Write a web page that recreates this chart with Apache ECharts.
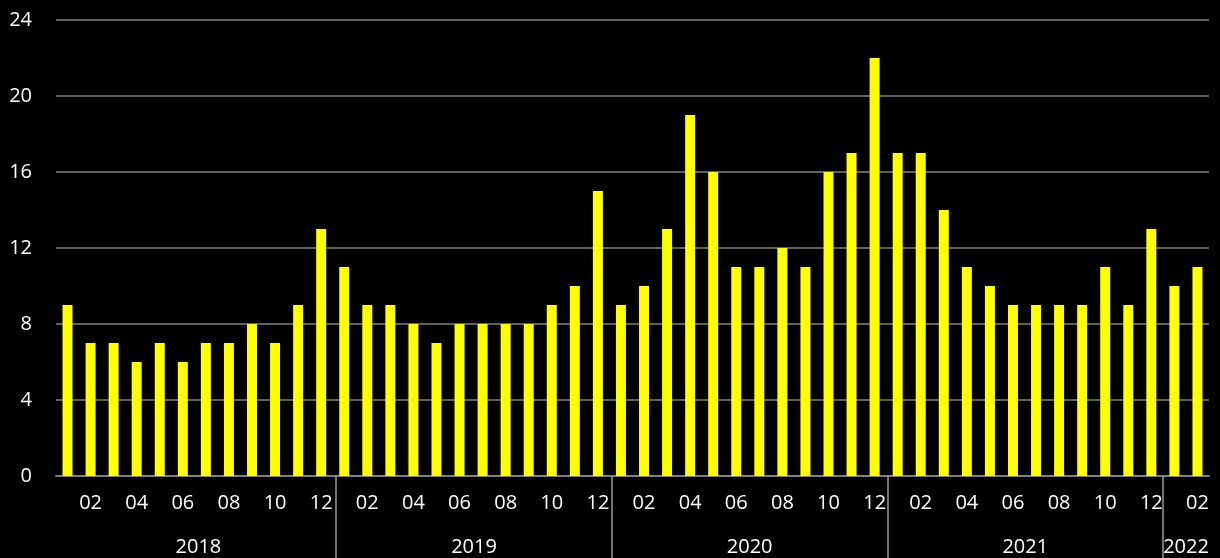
<!DOCTYPE html>
<html>
<head>
<meta charset="utf-8">
<script src="https://cdn.jsdelivr.net/npm/echarts@6/dist/echarts.min.js"></script>
<style>
  html, body { margin: 0; padding: 0; background: #000; }
  #main { width: 1220px; height: 558px; }
</style>
</head>
<body>
<div id="main"></div>
<script>
// months 2018-01 .. 2022-02
var months = [
  '01','02','03','04','05','06','07','08','09','10','11','12',
  '01','02','03','04','05','06','07','08','09','10','11','12',
  '01','02','03','04','05','06','07','08','09','10','11','12',
  '01','02','03','04','05','06','07','08','09','10','11','12',
  '01','02'
];
var values = [
  9, 7, 7, 6, 7, 6, 7, 7, 8, 7, 9, 13,
  11, 9, 9, 8, 7, 8, 8, 8, 8, 9, 10, 15,
  9, 10, 13, 19, 16, 11, 11, 12, 11, 16, 17, 22,
  17, 17, 14, 11, 10, 9, 9, 9, 9, 11, 9, 13,
  10, 11
];
var years = ['2018', '2019', '2020', '2021', '2022'];
var yearCenters = [6, 18, 30, 42, 49];   // month position of each year label
var yearBreaks = [12, 24, 36, 48];       // month position of each separator

var font = '"Open Sans", "Noto Sans", sans-serif';
var chart = echarts.init(document.getElementById('main'));

var option = {
  backgroundColor: '#000',
  animation: false,
  grid: { left: 56, right: 11, top: 20, bottom: 82, containLabel: false },
  xAxis: [
    {
      type: 'category',
      data: months,
      axisLine: { lineStyle: { color: '#808080', width: 2 } },
      axisTick: { show: false },
      axisLabel: {
        color: '#fff', fontSize: 20, fontFamily: font, margin: 17,
        interval: function (i) { return i % 2 === 1; }
      }
    },
    {
      type: 'value',
      position: 'bottom',
      min: -0.2,
      max: 50,
      axisLine: { show: false },
      splitLine: { show: false },
      axisTick: {
        show: true, inside: false, length: 84,
        customValues: yearBreaks,
        lineStyle: { color: '#9a9a9a', width: 1.5 }
      },
      axisLabel: {
        color: '#fff', fontSize: 20, fontFamily: font, margin: 61,
        customValues: yearCenters,
        formatter: function (v) { return years[yearCenters.indexOf(v)]; }
      }
    }
  ],
  yAxis: {
    type: 'value',
    min: 0, max: 24, interval: 4,
    axisLine: { show: false },
    axisTick: { show: false },
    splitLine: { lineStyle: { color: '#808080', width: 1.5 } },
    axisLabel: { color: '#fff', fontSize: 20, fontFamily: font, margin: 24 }
  },
  series: [{
    type: 'bar',
    data: values,
    barWidth: 10,
    itemStyle: { color: '#ffff00' }
  }]
};
chart.setOption(option);
</script>
</body>
</html>
